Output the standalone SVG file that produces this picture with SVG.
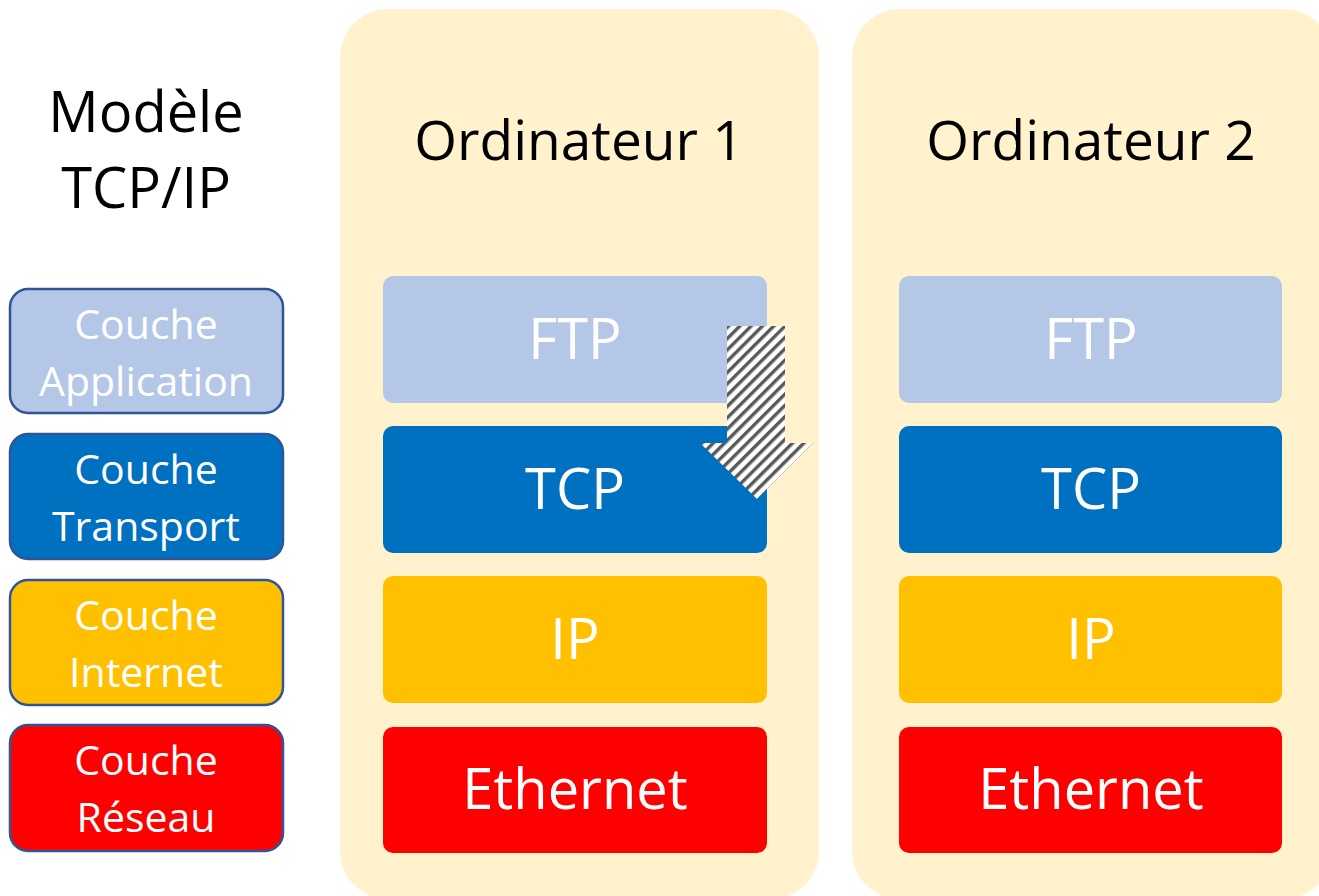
<svg xmlns="http://www.w3.org/2000/svg" width="1319" height="896" viewBox="0 0 1319 896">
<style>
.panel{fill:#FFF2CC}
.lbl{stroke:#2F5597;stroke-width:2.5}
.t{font-family:"Open Sans","Noto Sans",sans-serif;text-anchor:middle}
.w{fill:#FFFFFF}
.k{fill:#000000}
.app{fill:#B4C7E7}
.tra{fill:#0070C0}
.int{fill:#FFC000}
.res{fill:#FF0000}
</style>
<defs>
<pattern id="hatch" patternUnits="userSpaceOnUse" width="8" height="8" patternTransform="rotate(45)">
<rect x="0" y="0" width="8" height="8" fill="#FFFFFF"/>
<rect x="0" y="0" width="3.4" height="8" fill="#595959"/>
</pattern>
</defs>
<rect width="1319" height="896" fill="#FFFFFF"/>
<g id="title">
<text class="t k" x="146" y="132" font-size="56">Modèle</text>
<text class="t k" x="146" y="208" font-size="56">TCP/IP</text>
</g>
<g id="legend-application"><rect class="lbl app" x="10" y="289" width="273" height="124" rx="18"/><text class="t w" x="146" y="339" font-size="41">Couche</text><text class="t w" x="146" y="396" font-size="41">Application</text></g>
<g id="legend-transport"><rect class="lbl tra" x="10" y="434" width="273" height="125" rx="18"/><text class="t w" x="146" y="484" font-size="41">Couche</text><text class="t w" x="146" y="541" font-size="41">Transport</text></g>
<g id="legend-internet"><rect class="lbl int" x="10" y="580" width="273" height="125" rx="18"/><text class="t w" x="146" y="630" font-size="41">Couche</text><text class="t w" x="146" y="687" font-size="41">Internet</text></g>
<g id="legend-reseau"><rect class="lbl res" x="10" y="725" width="273" height="126" rx="18"/><text class="t w" x="146" y="775" font-size="41">Couche</text><text class="t w" x="146" y="832" font-size="41">Réseau</text></g>
<g id="ordinateur1">
<rect class="panel" x="340" y="9" width="479" height="890" rx="48"/>
<text class="t k" x="579" y="160" font-size="55">Ordinateur 1</text>
<g id="o1-ftp"><rect class="app" x="383" y="276" width="384" height="127" rx="10"/><text class="t w" x="575" y="359" font-size="56">FTP</text></g>
<g id="o1-tcp"><rect class="tra" x="383" y="426" width="384" height="127" rx="10"/><text class="t w" x="575" y="509" font-size="56">TCP</text></g>
<g id="o1-ip"><rect class="int" x="383" y="576" width="384" height="127" rx="10"/><text class="t w" x="575" y="659" font-size="56">IP</text></g>
<g id="o1-eth"><rect class="res" x="383" y="727" width="384" height="126" rx="10"/><text class="t w" x="575" y="809" font-size="56">Ethernet</text></g>
</g>
<g id="ordinateur2">
<rect class="panel" x="852" y="9" width="480" height="890" rx="48"/>
<text class="t k" x="1091" y="160" font-size="55">Ordinateur 2</text>
<g id="o2-ftp"><rect class="app" x="899" y="276" width="383" height="127" rx="10"/><text class="t w" x="1091" y="359" font-size="56">FTP</text></g>
<g id="o2-tcp"><rect class="tra" x="899" y="426" width="383" height="127" rx="10"/><text class="t w" x="1091" y="509" font-size="56">TCP</text></g>
<g id="o2-ip"><rect class="int" x="899" y="576" width="383" height="127" rx="10"/><text class="t w" x="1091" y="659" font-size="56">IP</text></g>
<g id="o2-eth"><rect class="res" x="899" y="727" width="383" height="126" rx="10"/><text class="t w" x="1091" y="809" font-size="56">Ethernet</text></g>
</g>
<g id="connectors">
<path d="M727,326 H785 V443 H813 L757,499 L700,443 H727 Z" fill="url(#hatch)"/>
</g>
</svg>
